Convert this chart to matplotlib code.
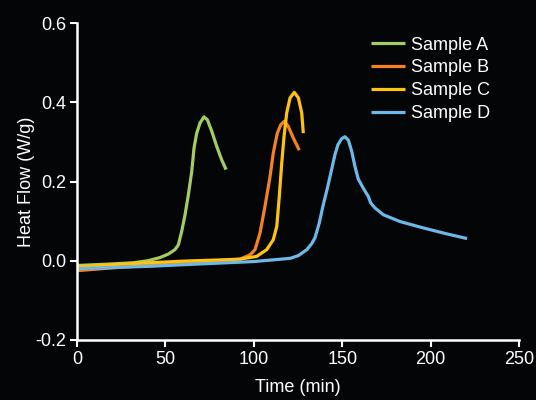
import matplotlib

matplotlib.use("Agg")
import matplotlib.pyplot as plt

# ---- Data (time in min, heat flow in W/g) ---------------------------------
time_a = [0, 10, 20, 32, 40, 46.9, 51.7, 55.4, 57.3, 59.2, 61.1, 63.0, 64.9, 66.2, 67.7,
          69.6, 71.8, 73.7, 76.2, 79.0, 81.8, 84.3]
flow_a = [-0.012, -0.010, -0.008, -0.005, 0.000, 0.008, 0.017, 0.028, 0.040, 0.074, 0.116,
          0.167, 0.226, 0.285, 0.322, 0.348, 0.363, 0.356, 0.327, 0.289, 0.255, 0.230]

time_b = [0, 20, 40, 60, 80, 92.2, 97.9, 100.7, 103.5, 106.3, 109.2, 111.0, 113.3, 115.2,
          117.3, 119.5, 122.3, 125.7]
flow_b = [-0.025, -0.018, -0.012, -0.006, 0.000, 0.004, 0.015, 0.028, 0.070, 0.137, 0.213,
          0.272, 0.322, 0.343, 0.352, 0.339, 0.310, 0.279]

time_c = [0, 20, 41, 60, 80, 92.2, 101.6, 107.3, 111.0, 113.0, 114.4, 115.8, 117.1, 118.6,
          120.5, 122.9, 125.2, 127.1, 128.0]
flow_c = [-0.015, -0.010, -0.005, -0.001, 0.002, 0.004, 0.011, 0.028, 0.053, 0.087, 0.162,
          0.247, 0.314, 0.373, 0.411, 0.425, 0.411, 0.373, 0.322]

time_d = [0, 20, 41, 60, 80, 100, 120.5, 125.2, 130.0, 132.7, 134.6, 137.0, 139.0, 141.6,
          144.0, 145.9, 147.6, 149.7, 151.6, 153.5, 155.4, 157.2, 159.1, 161.8, 164.8, 166.1,
          168.6, 173.3, 182.7, 195.7, 209.0, 220.6]
flow_d = [-0.020, -0.017, -0.014, -0.010, -0.006, -0.002, 0.006, 0.013, 0.028, 0.043, 0.058,
          0.095, 0.136, 0.183, 0.230, 0.268, 0.293, 0.308, 0.313, 0.304, 0.276, 0.238, 0.206,
          0.184, 0.162, 0.146, 0.133, 0.116, 0.099, 0.083, 0.068, 0.056]

series = [
    ("Sample A", time_a, flow_a, "#a3cd63"),
    ("Sample B", time_b, flow_b, "#f58220"),
    ("Sample C", time_c, flow_c, "#ffc20e"),
    ("Sample D", time_d, flow_d, "#6cb8e6"),
]

x_ticks = [0, 50, 100, 150, 200, 250]
y_ticks = [-0.2, 0.0, 0.2, 0.4, 0.6]
y_labels = ["-0.2", "0.0", "0.2", "0.4", "0.6"]

BG = "#040507"
FG = "white"
FS = 13
plt.rcParams["font.family"] = ["Liberation Sans", "DejaVu Sans"]

fig = plt.figure(figsize=(5.36, 4.0), dpi=100, facecolor=BG)
ax = fig.add_axes([0.1437, 0.15, 0.8246, 0.7925], facecolor=BG)

for name, t, v, c in series:
    ax.plot(t, v, color=c, linewidth=2.3, label=name,
            solid_joinstyle="round", solid_capstyle="butt")

ax.set_xlim(0, 250)
ax.set_ylim(-0.2, 0.6)
ax.set_xticks(x_ticks)
ax.set_yticks(y_ticks)
ax.set_yticklabels(y_labels)
ax.tick_params(axis="both", colors=FG, labelsize=FS, length=5, width=1.5,
               direction="out", pad=3)
for side in ("top", "right"):
    ax.spines[side].set_visible(False)
for side in ("left", "bottom"):
    ax.spines[side].set_color(FG)
    ax.spines[side].set_linewidth(1.8)

ax.set_xlabel("Time (min)", color=FG, fontsize=FS, labelpad=8)
ax.set_ylabel("Heat Flow (W/g)", color=FG, fontsize=FS, labelpad=0)

leg = ax.legend(loc="upper left", bbox_to_anchor=(0.648, 0.98), frameon=False,
                fontsize=FS, handlelength=1.9, handletextpad=0.35,
                labelspacing=0.32, borderaxespad=0.0)
for txt in leg.get_texts():
    txt.set_color(FG)

fig.savefig("out.png", dpi=100, facecolor=BG)
